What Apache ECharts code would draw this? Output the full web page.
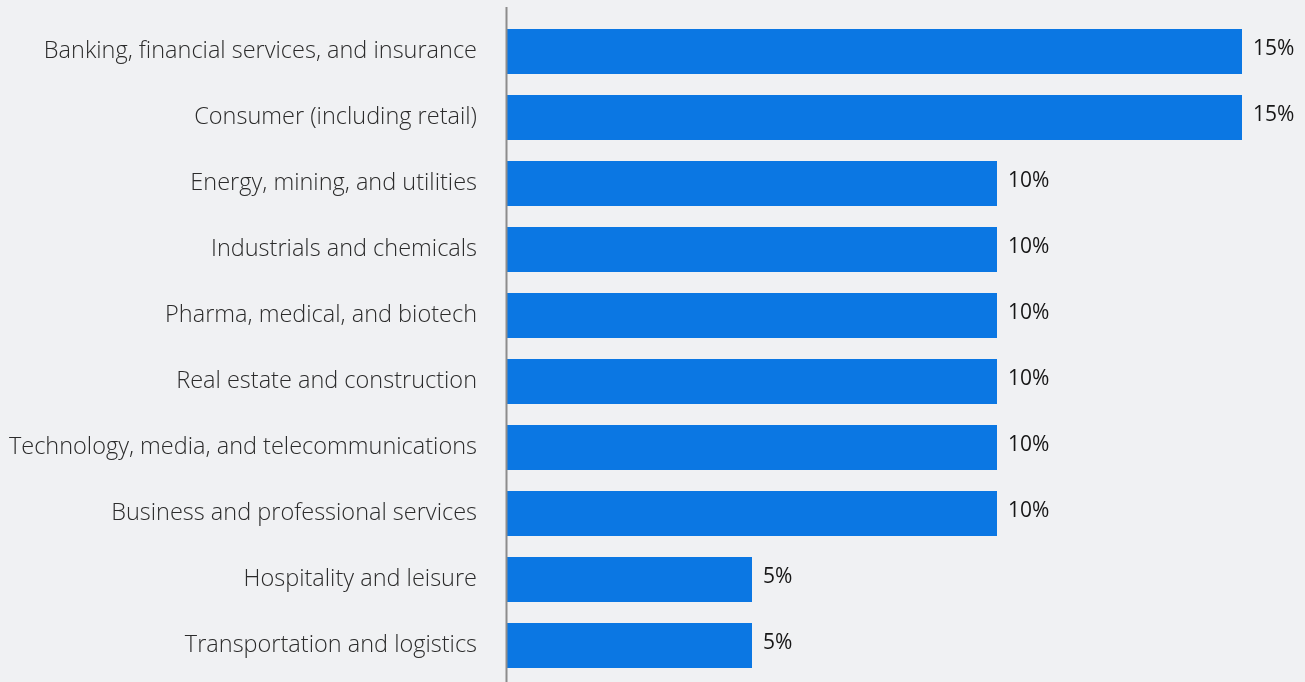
<!DOCTYPE html>
<html>
<head>
<meta charset="utf-8">
<style>
  html, body { margin: 0; padding: 0; background: #f0f1f3; }
  #chart { width: 1305px; height: 682px; }
</style>
<script src="https://cdn.jsdelivr.net/npm/echarts@6/dist/echarts.min.js"></script>
</head>
<body>
<div id="chart"></div>
<script>
// Sectors, listed top to bottom
const sectors = [
  'Banking, financial services, and insurance',
  'Consumer (including retail)',
  'Energy, mining, and utilities',
  'Industrials and chemicals',
  'Pharma, medical, and biotech',
  'Real estate and construction',
  'Technology, media, and telecommunications',
  'Business and professional services',
  'Hospitality and leisure',
  'Transportation and logistics'
];
// Share of respondents, percent
const shares = [15, 15, 10, 10, 10, 10, 10, 10, 5, 5];

const chart = echarts.init(document.getElementById('chart'), null, { renderer: 'canvas' });
const FONT = '"Open Sans", "Noto Sans", sans-serif';

chart.setOption({
  backgroundColor: '#f0f1f3',
  animation: false,
  grid: { left: 507, right: 14, top: 18.5, bottom: 3.5, containLabel: false },
  xAxis: {
    type: 'value', min: 0, max: 16,
    show: false
  },
  yAxis: {
    type: 'category',
    inverse: true,
    data: sectors,
    axisLine: { show: false },
    axisTick: { show: false },
    axisLabel: {
      margin: 30,
      fontFamily: FONT,
      fontSize: 23.5,
      fontWeight: 300,
      color: '#2b2b2b',
      verticalAlign: 'middle',
      padding: [2, 0, 0, 0]
    }
  },
  graphic: [{
    type: 'rect',
    shape: { x: 505.5, y: 7, width: 2, height: 675 },
    style: { fill: '#8c8c8c' },
    z: 10
  }],
  series: [{
    type: 'bar',
    data: shares,
    barWidth: 45,
    itemStyle: { color: '#0b77e3' },
    label: {
      show: true,
      position: 'right',
      distance: 11,
      offset: [0, -2],
      formatter: '{c}%',
      fontFamily: FONT,
      fontSize: 21,
      color: '#161616'
    }
  }]
});
</script>
</body>
</html>
